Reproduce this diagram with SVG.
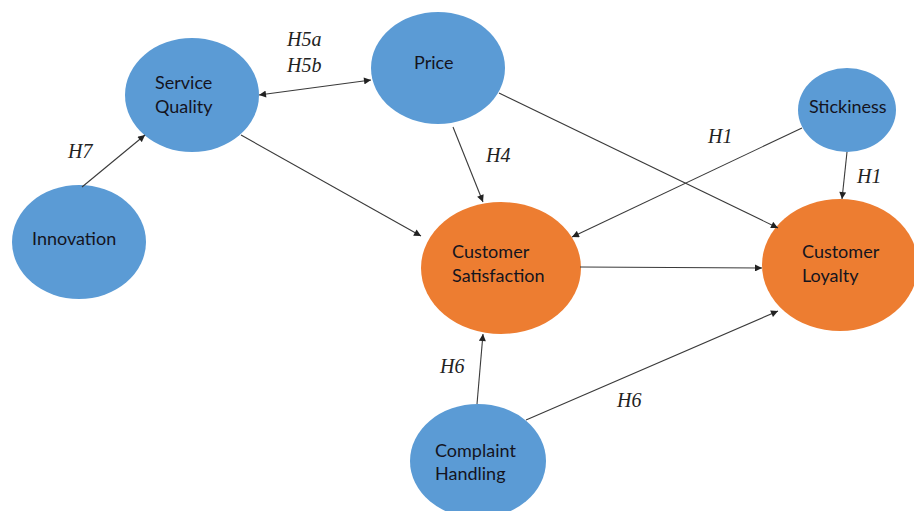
<svg xmlns="http://www.w3.org/2000/svg" width="914" height="511" viewBox="0 0 914 511">
<style>
.blue{fill:#5B9BD5;}
.orange{fill:#ED7D31;}
.nt{font-family:Lato,"Liberation Sans",sans-serif;font-size:18px;fill:#14141e;}
.lb{font-family:"Liberation Serif","Times New Roman",serif;font-style:italic;font-size:20px;fill:#222;}
.c{stroke:#3a3a3a;stroke-width:1.1;fill:none;marker-end:url(#ah);}
</style>
<defs>
<marker id="ah" viewBox="0 0 10 10" refX="10" refY="5" markerWidth="8" markerHeight="7" markerUnits="userSpaceOnUse" orient="auto-start-reverse">
<path d="M0,0 L10,5 L0,10 z" fill="#222"/>
</marker>
</defs>
<rect width="914" height="511" fill="#ffffff"/>
<g id="innovation"><ellipse class="blue" cx="79" cy="242" rx="67" ry="57"/><text class="nt" x="32" y="245">Innovation</text></g>
<g id="service-quality"><ellipse class="blue" cx="192" cy="95" rx="67" ry="57"/><text class="nt" x="155" y="89">Service</text><text class="nt" x="155" y="113">Quality</text></g>
<g id="price"><ellipse class="blue" cx="438" cy="68" rx="67" ry="56"/><text class="nt" x="414" y="69">Price</text></g>
<g id="stickiness"><ellipse class="blue" cx="847" cy="110" rx="49" ry="42"/><text class="nt" x="809" y="113">Stickiness</text></g>
<g id="customer-satisfaction"><ellipse class="orange" cx="501" cy="268" rx="80" ry="66"/><text class="nt" x="452" y="258">Customer</text><text class="nt" x="452" y="282">Satisfaction</text></g>
<g id="customer-loyalty"><ellipse class="orange" cx="840" cy="265" rx="78" ry="66"/><text class="nt" x="802" y="258">Customer</text><text class="nt" x="802" y="282">Loyalty</text></g>
<g id="complaint-handling"><ellipse class="blue" cx="478" cy="461" rx="68" ry="57"/><text class="nt" x="435" y="457">Complaint</text><text class="nt" x="435" y="480">Handling</text></g>
<g id="connectors">
<line class="c" x1="82" y1="187" x2="145" y2="135"/>
<line class="c" x1="259" y1="95" x2="371" y2="80" style="marker-start:url(#ah)"/>
<line class="c" x1="241" y1="135" x2="421" y2="236"/>
<line class="c" x1="453" y1="127" x2="483" y2="202"/>
<line class="c" x1="499" y1="93" x2="778" y2="228"/>
<line class="c" x1="802" y1="128" x2="572" y2="237"/>
<line class="c" x1="847" y1="152" x2="842" y2="199"/>
<line class="c" x1="580" y1="267" x2="762" y2="268"/>
<line class="c" x1="477" y1="404" x2="483" y2="334"/>
<line class="c" x1="526" y1="420" x2="778" y2="311"/>
</g>
<g id="labels">
<text class="lb" x="287" y="46">H5a</text>
<text class="lb" x="287" y="72">H5b</text>
<text class="lb" x="68" y="158">H7</text>
<text class="lb" x="486" y="162">H4</text>
<text class="lb" x="708" y="143">H1</text>
<text class="lb" x="857" y="183">H1</text>
<text class="lb" x="440" y="373">H6</text>
<text class="lb" x="617" y="407">H6</text>
</g>
</svg>
